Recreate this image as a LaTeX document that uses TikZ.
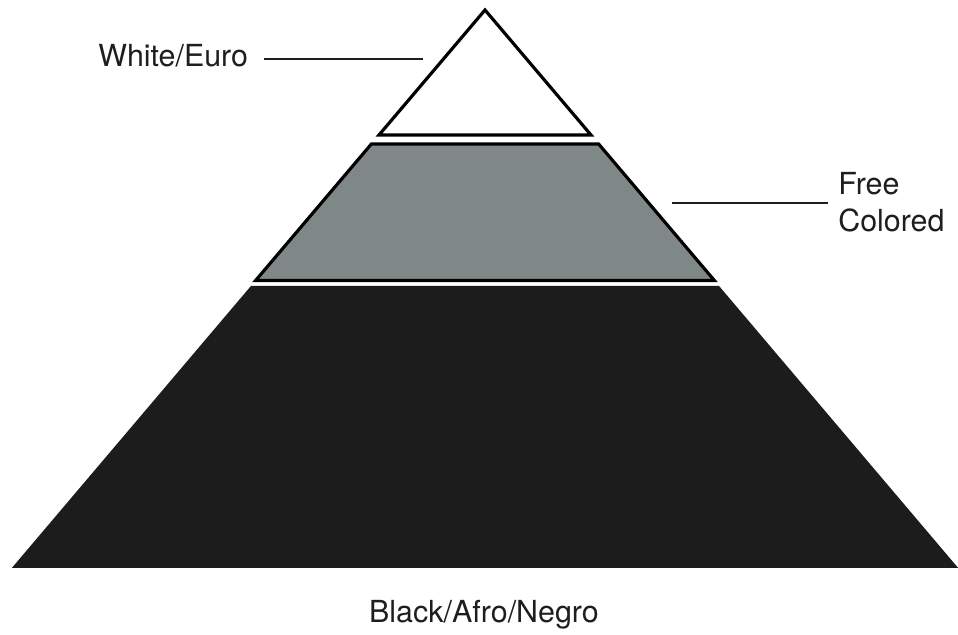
\documentclass[tikz,border=0pt]{standalone}
\usepackage{fontspec}
\setmainfont{TeX Gyre Heros}
\usepackage{xcolor}
\usetikzlibrary{positioning}

\definecolor{tiergray}{RGB}{128,136,135}
\definecolor{tierblack}{RGB}{28,28,28}
\definecolor{labelink}{RGB}{30,30,30}

\begin{document}
\begin{tikzpicture}[x=0.02cm,y=0.02cm,
    tier/.style={line width=1.8pt,line join=miter},
    leader/.style={line width=1pt,draw=labelink},
    caption/.style={inner sep=0pt,text=labelink,font=\fontsize{17.3}{21.3}\selectfont}]
  \useasboundingbox (0,0) rectangle (958,635);
  \def\ax{485}   % apex x
  \def\ay{625}   % apex y
  \def\k{0.848}  % half width per unit of drop

  % top tier: white triangle
  \draw[tier,fill=white] (\ax,\ay) -- (\ax-\k*125,500) -- (\ax+\k*125,500) -- cycle;
  % middle tier: gray band
  \draw[tier,fill=tiergray] (\ax-\k*134,491) -- (\ax+\k*134,491)
     -- (\ax+\k*270.5,354.5) -- (\ax-\k*270.5,354.5) -- cycle;
  % bottom tier: black band
  \fill[tierblack] (\ax-\k*276,349) -- (\ax+\k*276,349)
     -- (\ax+\k*558,67) -- (\ax-\k*558,67) -- cycle;

  % labels
  \node[caption,anchor=base west] (euro) at (98,568) {White/Euro};
  \coordinate (eurotip) at (423,576);
  \draw[leader,shorten <=0.32cm] (euro.east |- eurotip) -- (eurotip);

  \node[caption,anchor=base west,align=left] (freecol) at (838,403) {Free\\Colored};
  \coordinate (freetip) at (672,432);
  \draw[leader,shorten <=0.2cm] (freecol.west |- freetip) -- (freetip);

  \node[caption,anchor=base] (afro) at (484,12) {Black/Afro/Negro};
\end{tikzpicture}
\end{document}
